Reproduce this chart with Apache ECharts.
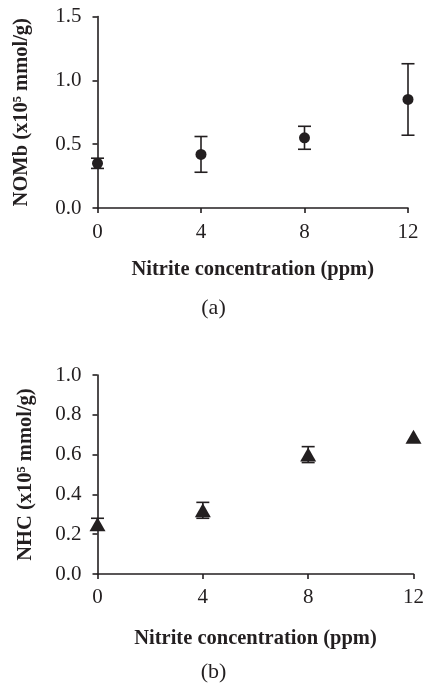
<!DOCTYPE html>
<html>
<head>
<meta charset="utf-8">
<script src="https://cdn.jsdelivr.net/npm/echarts@6/dist/echarts.min.js"></script>
<style>
  html, body { margin: 0; padding: 0; background: #fff; }
  #chart { width: 427px; height: 684px; }
</style>
</head>
<body>
<div id="chart"></div>
<script>
// values
const nitrite = [0, 4, 8, 12];
const nomb = [0.35, 0.42, 0.55, 0.85];
const nombErr = [0.04, 0.14, 0.09, 0.28];
const nhc = [0.25, 0.32, 0.6, 0.69];
const nhcErr = [0.03, 0.04, 0.04, 0];

const font = "'Liberation Serif', 'Times New Roman', serif";
const ink = "#231f20";

function errData(vals, errs) {
  return nitrite.map((x, i) => [x, vals[i] - errs[i], vals[i] + errs[i]]);
}

function errorBars(api) {
  if (api.value(2) === api.value(1)) return null;
  const lo = api.coord([api.value(0), api.value(1)]);
  const hi = api.coord([api.value(0), api.value(2)]);
  const half = 6.5;
  const style = { stroke: ink, lineWidth: 1.6 };
  return {
    type: "group",
    children: [
      { type: "line", shape: { x1: lo[0], y1: lo[1], x2: hi[0], y2: hi[1] }, style },
      { type: "line", shape: { x1: hi[0] - half, y1: hi[1], x2: hi[0] + half, y2: hi[1] }, style },
      { type: "line", shape: { x1: lo[0] - half, y1: lo[1], x2: lo[0] + half, y2: lo[1] }, style },
    ],
  };
}

const axisLine = { lineStyle: { color: ink, width: 1.6 } };
const axisTick = { inside: false, length: 5, lineStyle: { color: ink, width: 1.6 } };
const tickLabel = { color: ink, fontFamily: font, fontSize: 21 };
const nameStyle = { color: ink, fontFamily: font, fontSize: 20.5, fontWeight: "bold" };

function xAxis(gridIndex, nameGap, margin) {
  return {
    gridIndex,
    type: "value",
    min: 0,
    max: 12,
    interval: 4,
    name: "Nitrite concentration (ppm)",
    nameLocation: "middle",
    nameGap,
    nameTextStyle: nameStyle,
    axisLine,
    axisTick,
    axisLabel: Object.assign({ margin }, tickLabel),
    splitLine: { show: false },
  };
}

function yAxis(gridIndex, name, max, interval, nameGap) {
  return {
    gridIndex,
    type: "value",
    min: 0,
    max,
    interval,
    name,
    nameLocation: "middle",
    nameGap,
    nameTextStyle: nameStyle,
    axisLine: Object.assign({ show: true }, axisLine),
    axisTick,
    axisLabel: Object.assign({ margin: 16, formatter: (v) => v.toFixed(1) }, tickLabel),
    splitLine: { show: false },
  };
}

const option = {
  animation: false,
  backgroundColor: "#fff",
  title: [
    { text: "(a)", left: "center", top: 292, textStyle: { color: ink, fontFamily: font, fontSize: 22, fontWeight: "normal" } },
    { text: "(b)", left: "center", top: 656, textStyle: { color: ink, fontFamily: font, fontSize: 22, fontWeight: "normal" } },
  ],
  grid: [
    { left: 97.5, right: 19, top: 16.5, bottom: 476 },
    { left: 97.5, right: 12, top: 375, bottom: 110 },
  ],
  xAxis: [xAxis(0, 51, 14), xAxis(1, 54, 13)],
  yAxis: [
    yAxis(0, "NOMb (x10⁵ mmol/g)", 1.5, 0.5, 65),
    yAxis(1, "NHC (x10⁵ mmol/g)", 1.0, 0.2, 61),
  ],
  series: [
    {
      type: "custom",
      xAxisIndex: 0,
      yAxisIndex: 0,
      renderItem: (params, api) => errorBars(api),
      data: errData(nomb, nombErr),
      z: 1,
    },
    {
      type: "scatter",
      xAxisIndex: 0,
      yAxisIndex: 0,
      symbol: "circle",
      symbolSize: 11,
      itemStyle: { color: ink, opacity: 1 },
      data: nitrite.map((x, i) => [x, nomb[i]]),
      z: 3,
    },
    {
      type: "custom",
      xAxisIndex: 1,
      yAxisIndex: 1,
      renderItem: (params, api) => errorBars(api),
      data: errData(nhc, nhcErr),
      z: 1,
    },
    {
      type: "scatter",
      xAxisIndex: 1,
      yAxisIndex: 1,
      symbol: "triangle",
      symbolSize: [16, 14],
      itemStyle: { color: ink, opacity: 1 },
      data: nitrite.map((x, i) => [x, nhc[i]]),
      z: 3,
    },
  ],
};

const myChart = echarts.init(document.getElementById("chart"));
myChart.setOption(option);
</script>
</body>
</html>
